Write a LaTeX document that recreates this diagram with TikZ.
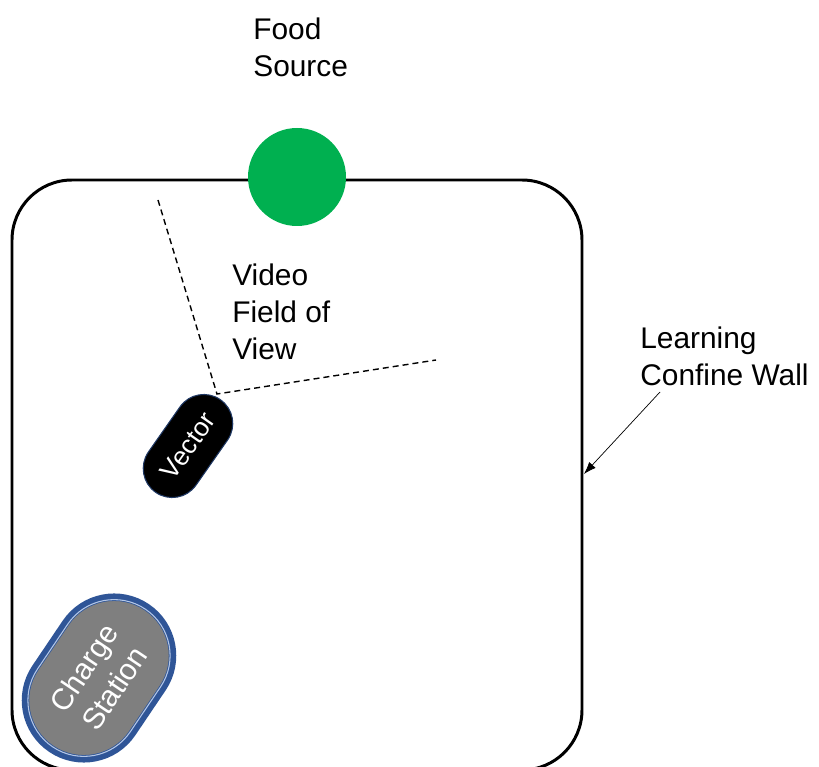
\documentclass[tikz,border=0pt]{standalone}
\usepackage{fontspec}
\setmainfont{Liberation Sans}
\usetikzlibrary{shapes.misc,arrows.meta}
\definecolor{foodgreen}{HTML}{00B050}
\definecolor{chargegray}{HTML}{7F7F7F}
\definecolor{chargeblue}{HTML}{2F5597}
\definecolor{chargelight}{HTML}{B4C7E7}
\definecolor{vecblue}{HTML}{1F3864}
\tikzset{
  lbl/.style={anchor=north west, inner sep=0pt, align=left, font=\fontsize{17}{21}\selectfont},
  wall/.style={line width=1.7pt, rounded corners=1.2cm},
  fov/.style={dash pattern=on 3.4pt off 2.3pt, line width=0.8pt},
  robot/.style={rounded rectangle, fill=black, draw=vecblue, line width=0.6pt, text=white,
    minimum width=113*0.02cm, minimum height=58*0.02cm, inner sep=0pt, rotate=55,
    font=\fontsize{15}{18}\selectfont},
  station/.style={rounded rectangle, fill=chargegray, text=white, inner sep=0pt,
    minimum width=166*0.02cm, minimum height=112*0.02cm, rotate=56, align=center,
    font=\fontsize{17}{21}\selectfont,
    preaction={draw=chargeblue, line width=7pt},
    draw=chargeblue, double=chargelight, line width=0.45pt, double distance=0.6pt},
  pointer/.style={-{Latex[length=7pt,width=5pt]}, line width=0.4pt}
}
\begin{document}
\begin{tikzpicture}[x=0.02cm,y=-0.02cm]
\useasboundingbox (0,0) rectangle (819,767);
\begin{scope}
  \clip (0,0) rectangle (819,767);
  \draw[wall] (12,180) rectangle (582,770);
\end{scope}
\node[circle, fill=foodgreen, minimum size=98*0.02cm, inner sep=0pt] (food) at (297,177) {};
\node[lbl] (foodlbl) at (253,18) {Food\\Source};
\coordinate (fovl) at (158,200);
\coordinate (fovc) at (217,394);
\coordinate (fovr) at (436,360);
\draw[fov] (fovl) -- (fovc) -- (fovr);
\node[lbl] (fovlbl) at (232,264) {Video\\Field of\\View};
\node[robot] (vector) at (188,446) {Vector};
\node[station] (charge) at (99,678) {Charge\\Station};
\node[lbl] (walllbl) at (640,327) {Learning\\Confine Wall};
\coordinate (arrstart) at (660,392);
\coordinate (wallpt) at (584,474);
\draw[pointer] (arrstart) -- (wallpt);
\end{tikzpicture}
\end{document}
